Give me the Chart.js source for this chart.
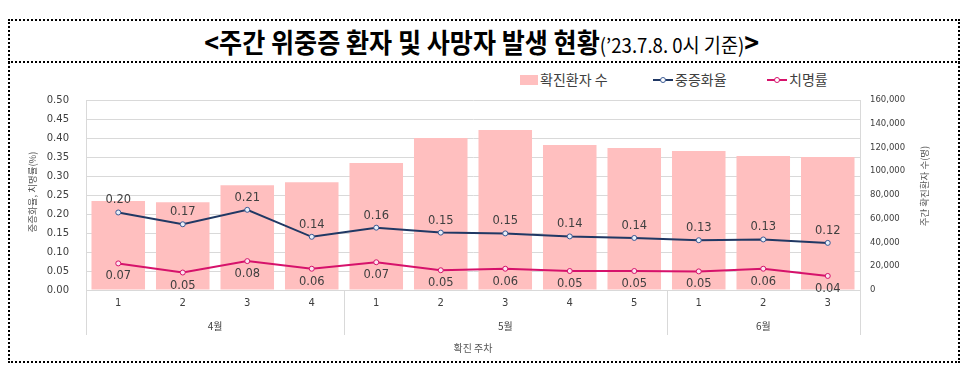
<!DOCTYPE html>
<html>
<head>
<meta charset="utf-8">
<script src="https://cdn.jsdelivr.net/npm/chart.js@4.4.0/dist/chart.umd.min.js"></script>
<style>
  body { margin: 0; background: #fff; }
  #wrap { position: relative; width: 963px; height: 365px; overflow: hidden; }
  #box { position: absolute; left: 8px; top: 19px; width: 948px; height: 340px; border: 2px dotted #000; }
  #sep { position: absolute; left: 8px; top: 61px; width: 952px; border-top: 2px dotted #000; }
  #title { position: absolute; left: 0; top: 22px; width: 963px; text-align: center; white-space: nowrap;
           font-family: "Noto Sans CJK KR"; color: #000; transform: scaleX(0.93); transform-origin: 485px 0; }
  #title .b { font-weight: bold; font-size: 27px; }
  #title .s { font-size: 20px; }
  .lg { position: absolute; top: 70px; font-family: "Noto Sans CJK KR"; font-size: 14px; color: #404040; line-height: 18px; }
  .lg i { display: inline-block; vertical-align: middle; position: relative; }
  .lg b { position: absolute; left: 7px; top: -2px; width: 4px; height: 4px; border-radius: 50%; background: #fff; border: 1px solid; }
  canvas { position: absolute; left: 0; top: 0; }
</style>
</head>
<body>
<div id="wrap">
  <div id="box"></div>
  <div id="sep"></div>
  <div id="title"><span class="b">&lt;주간 위중증 환자 및 사망자 발생 현황</span><span class="s">(’23.7.8. 0시 기준)</span><span class="b">&gt;</span></div>
  <div class="lg" style="left:520px"><i style="width:18px;height:10px;background:#FFBFBF;margin-right:2px;margin-top:-3px"></i>확진환자 수</div>
  <div class="lg" style="left:653px"><i style="width:20px;height:2px;background:#203864;margin-right:2px;margin-top:-3px"><b style="border-color:#3a5a94"></b></i>중증화율</div>
  <div class="lg" style="left:767px"><i style="width:20px;height:2px;background:#D6126B;margin-right:2px;margin-top:-3px"><b style="border-color:#D6126B"></b></i>치명률</div>
  <canvas id="chart" width="963" height="365"></canvas>
</div>
<script>
const weeks = ['1', '2', '3', '4', '1', '2', '3', '4', '5', '1', '2', '3'];
const months = ['4월', '5월', '6월'];
const monthWeeks = [4, 5, 3];
const cases = [75000, 73900, 88200, 90700, 107000, 128000, 134700, 122100, 119600, 117000, 112800, 112000];
const severeRate = [0.204, 0.173, 0.211, 0.140, 0.164, 0.151, 0.149, 0.141, 0.137, 0.131, 0.133, 0.124];
const deathRate = [0.070, 0.046, 0.076, 0.056, 0.073, 0.052, 0.056, 0.050, 0.050, 0.049, 0.056, 0.037];
const leftTicks = [0, 0.05, 0.1, 0.15, 0.2, 0.25, 0.3, 0.35, 0.4, 0.45, 0.5];
const rightTicks = [0, 20000, 40000, 60000, 80000, 100000, 120000, 140000, 160000];

const gridColor = '#d9d9d9';
const numFont = '"DejaVu Sans", "Noto Sans CJK KR"';
const korFont = '"Noto Sans CJK KR"';

// 데이터 라벨, 월 구분선, 축 제목
const extras = {
    id: 'extras',
    afterDatasetsDraw(chart) {
        const ctx = chart.ctx;
        ctx.save();
        ctx.font = '11.5px ' + numFont;
        ctx.fillStyle = '#404040';
        ctx.textAlign = 'center';
        ctx.textBaseline = 'middle';
        chart.getDatasetMeta(0).data.forEach((p, i) => {
            ctx.fillText(severeRate[i].toFixed(2), p.x, p.y - 12);
        });
        chart.getDatasetMeta(1).data.forEach((p, i) => {
            ctx.fillText(deathRate[i].toFixed(2), p.x, p.y + 13);
        });
        ctx.restore();
    },
    afterDraw(chart) {
        const ctx = chart.ctx;
        const x = chart.scales.x;
        const area = chart.chartArea;
        const half = (x.getPixelForValue(1) - x.getPixelForValue(0)) / 2;
        ctx.save();
        ctx.strokeStyle = gridColor;
        ctx.lineWidth = 1;
        let start = 0;
        const edges = [0];
        monthWeeks.forEach(n => { start += n; edges.push(start); });
        edges.forEach(e => {
            const px = Math.round(x.getPixelForValue(e) - half) + 0.5;
            ctx.beginPath();
            ctx.moveTo(px, area.bottom);
            ctx.lineTo(px, area.bottom + 45);
            ctx.stroke();
        });
        ctx.font = '10px ' + korFont;
        ctx.fillStyle = '#404040';
        ctx.textAlign = 'center';
        ctx.textBaseline = 'middle';
        months.forEach((m, k) => {
            const cx = (x.getPixelForValue(edges[k]) + x.getPixelForValue(edges[k + 1] - 1)) / 2;
            ctx.fillText(m, cx, 326);
        });
        ctx.fillStyle = '#595959';
        ctx.fillText('확진 주차', (area.left + area.right) / 2, 348);
        ctx.font = '9.5px ' + korFont;
        ctx.translate(32, 192);
        ctx.rotate(-Math.PI / 2);
        ctx.fillText('중증화율, 치명률(%)', 0, 0);
        ctx.rotate(Math.PI / 2);
        ctx.translate(924 - 32, 186 - 192);
        ctx.rotate(-Math.PI / 2);
        ctx.fillText('주간 확진환자 수(명)', 0, 0);
        ctx.restore();
    }
};

new Chart(document.getElementById('chart').getContext('2d'), {
    type: 'bar',
    data: {
        labels: weeks,
        datasets: [
            {
                type: 'line',
                label: '중증화율',
                data: severeRate,
                yAxisID: 'y',
                borderColor: '#203864',
                borderWidth: 2,
                pointRadius: 2.5,
                pointBorderWidth: 1,
                pointBackgroundColor: '#e8eef8',
                pointBorderColor: '#3a5a94',
                order: 0
            },
            {
                type: 'line',
                label: '치명률',
                data: deathRate,
                yAxisID: 'y',
                borderColor: '#D6126B',
                borderWidth: 2,
                pointRadius: 2.5,
                pointBorderWidth: 1,
                pointBackgroundColor: '#fbe4ee',
                pointBorderColor: '#D6126B',
                order: 1
            },
            {
                label: '확진환자 수',
                data: cases,
                yAxisID: 'y1',
                backgroundColor: '#FFBFBF',
                barPercentage: 0.83,
                categoryPercentage: 1,
                order: 2
            }
        ]
    },
    options: {
        responsive: false,
        animation: false,
        layout: { padding: { top: 100, left: 0, right: 0, bottom: 0 } },
        plugins: {
            legend: { display: false },
            tooltip: { enabled: false }
        },
        scales: {
            x: {
                grid: { display: false, drawTicks: false },
                border: { color: gridColor },
                ticks: { font: { size: 10, family: numFont }, color: '#404040', padding: 7 },
                afterFit(scale) { scale.height = 75; }
            },
            y: {
                position: 'left',
                min: 0,
                max: 0.5,
                afterBuildTicks(scale) { scale.ticks = leftTicks.map(v => ({ value: v })); },
                ticks: {
                    font: { size: 10, family: numFont },
                    color: '#404040',
                    padding: 17,
                    callback: v => v.toFixed(2)
                },
                grid: { color: gridColor, drawTicks: false },
                border: { color: gridColor },
                afterFit(scale) { scale.width = 86; }
            },
            y1: {
                position: 'right',
                min: 0,
                max: 160000,
                afterBuildTicks(scale) { scale.ticks = rightTicks.map(v => ({ value: v })); },
                ticks: {
                    font: { size: 8.5, family: numFont },
                    color: '#404040',
                    padding: 10,
                    callback: v => v.toLocaleString('en-US')
                },
                grid: { drawOnChartArea: false, drawTicks: false },
                border: { color: gridColor },
                afterFit(scale) { scale.width = 103; }
            }
        }
    },
    plugins: [extras]
});
</script>
</body>
</html>
